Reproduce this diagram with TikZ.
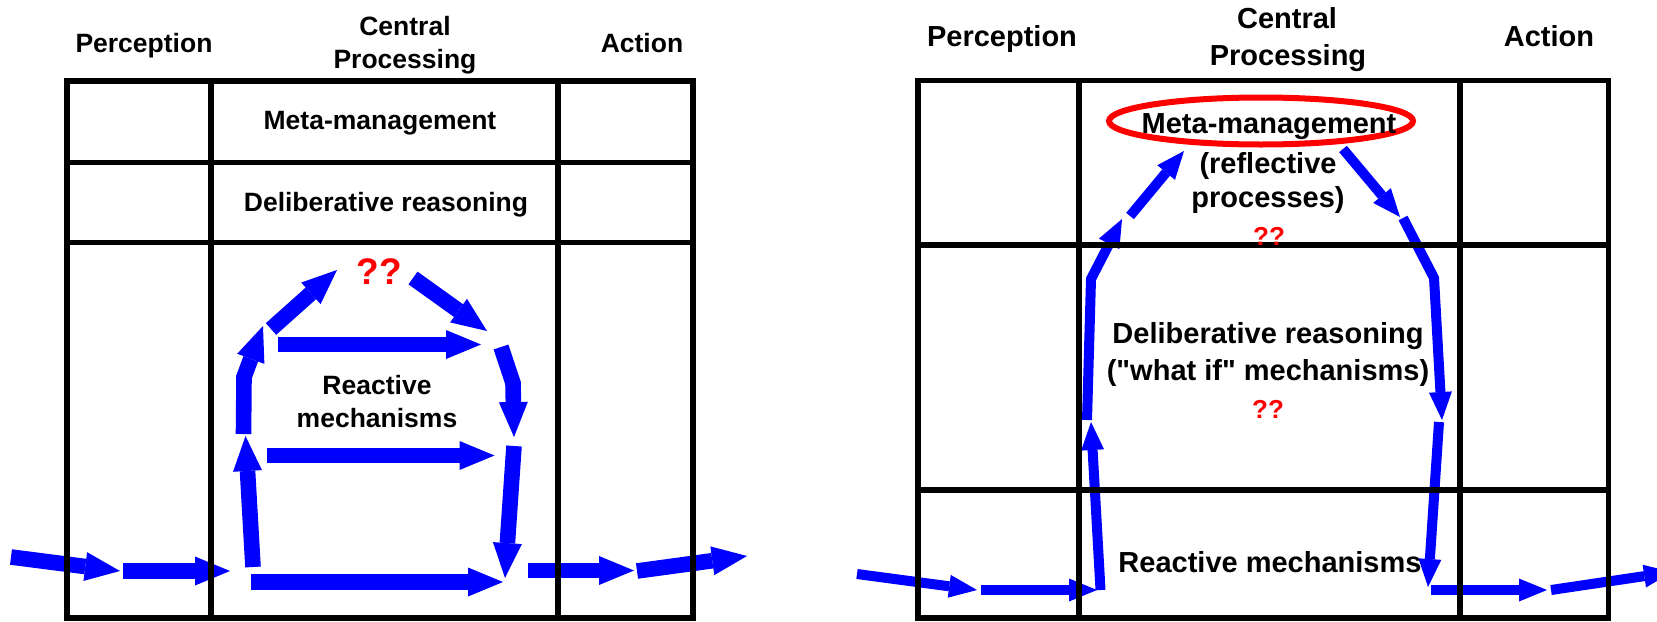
\documentclass[tikz,border=0pt]{standalone}
\usepackage{fontspec}
\setmainfont{Liberation Sans}
\usetikzlibrary{arrows.meta}
\newcommand{\straightquote}{\XeTeXglyph\XeTeXcharglyph"22\relax}
\begin{document}
\begin{tikzpicture}[x=0.5pt,y=-0.5pt,
  lbl/.style={inner sep=0pt, anchor=base, font=\bfseries\fontsize{13.25}{16}\selectfont},
  lblR/.style={inner sep=0pt, anchor=base, font=\bfseries\fontsize{14.5}{17}\selectfont},
  qL/.style={inner sep=0pt, anchor=base, text=red, font=\bfseries\fontsize{18.5}{22}\selectfont},
  qR/.style={inner sep=0pt, anchor=base, text=red, font=\bfseries\fontsize{13}{16}\selectfont},
  gridL/.style={line width=2.6pt},
  gridR/.style={line width=2.9pt},
  flowL/.style={draw=blue, line width=7.8pt, line join=miter, -{Triangle[length=17.5pt,width=14.5pt,line width=0pt]}},
  flowR/.style={draw=blue, line width=5pt, line join=miter, -{Triangle[length=14pt,width=11.5pt,line width=0pt]}},
  ring/.style={draw=red, line width=3pt}]
\clip (0,0) rectangle (1657,621);
\fill[white] (0,0) rectangle (1657,621);

% ---------- left panel: arrow end points ----------
\coordinate (a1s) at (11,557);    \coordinate (a1e) at (120,571);
\coordinate (a2s) at (123,571);   \coordinate (a2e) at (230,571);
\coordinate (a3s) at (251,582);   \coordinate (a3e) at (503,582);
\coordinate (a4s) at (253,567);   \coordinate (a4e) at (245.5,436);
\coordinate (a5s) at (243.5,434); \coordinate (a5b) at (244,377);   \coordinate (a5e) at (263,326);
\coordinate (a6s) at (271,329);   \coordinate (a6e) at (337,270);
\coordinate (a7s) at (278,344.5); \coordinate (a7e) at (481,344.5);
\coordinate (a8s) at (267,455.5); \coordinate (a8e) at (494.5,455.5);
\coordinate (a9s) at (413,278);   \coordinate (a9e) at (487,331);
\coordinate (a10s) at (501,347);  \coordinate (a10b) at (513,383);  \coordinate (a10e) at (514,437);
\coordinate (a11s) at (514,446);  \coordinate (a11e) at (505,578);
\coordinate (a12s) at (528,570.5);\coordinate (a12e) at (634,570.5);
\coordinate (a13s) at (637,571);  \coordinate (a13e) at (747,556);

\draw[flowL] (a1s) -- (a1e);
\draw[flowL] (a2s) -- (a2e);
\draw[flowL] (a3s) -- (a3e);
\draw[flowL] (a4s) -- (a4e);
\draw[flowL] (a5s) -- (a5b) -- (a5e);
\draw[flowL] (a6s) -- (a6e);
\draw[flowL] (a7s) -- (a7e);
\draw[flowL] (a8s) -- (a8e);
\draw[flowL] (a9s) -- (a9e);
\draw[flowL] (a10s) -- (a10b) -- (a10e);
\draw[flowL] (a11s) -- (a11e);
\draw[flowL] (a12s) -- (a12e);
\draw[flowL] (a13s) -- (a13e);

% ---------- left panel: grid ----------
\draw[gridL] (67,81) rectangle (693,618);
\draw[gridL] (211,81) -- (211,618);
\draw[gridL] (558,81) -- (558,618);
\draw[gridL] (67,162.5) -- (693,162.5);
\draw[gridL] (67,242.5) -- (690,242.5);

% ---------- left panel: texts ----------
\node[lbl] (pL) at (144,52.7) {Perception};
\node[lbl] (cL1) at (405,35.6) {Central};
\node[lbl] (cL2) at (405,68.1) {Processing};
\node[lbl] (aL) at (642,52.7) {Action};
\node[lbl] (mmL) at (380,129.9) {Meta-management};
\node[lbl] (drL) at (386,211.9) {Deliberative reasoning};
\node[qL] (qqL) at (379,284.4) {??};
\node[lbl] (rmL1) at (377,394.9) {Reactive};
\node[lbl] (rmL2) at (377,427.7) {mechanisms};

% ---------- right panel: arrow end points ----------
\coordinate (b1s) at (857,574);   \coordinate (b1e) at (977,590);
\coordinate (b2s) at (981,590);   \coordinate (b2e) at (1097,590);
\coordinate (b3s) at (1100.5,590);\coordinate (b3e) at (1091,422);
\coordinate (b4s) at (1087,420);  \coordinate (b4b) at (1091,279);  \coordinate (b4e) at (1122,219);
\coordinate (b5s) at (1130,216);  \coordinate (b5e) at (1184,151);
\coordinate (b6s) at (1343,149);  \coordinate (b6e) at (1400,217);
\coordinate (b7s) at (1403,218);  \coordinate (b7b) at (1434,278);  \coordinate (b7e) at (1442,420);
\coordinate (b8s) at (1439,422);  \coordinate (b8e) at (1428,587);
\coordinate (b9s) at (1431,590);  \coordinate (b9e) at (1547,590);
\coordinate (b10s) at (1551,590); \coordinate (b10e) at (1672,572);

\draw[flowR] (b1s) -- (b1e);
\draw[flowR] (b2s) -- (b2e);
\draw[flowR] (b3s) -- (b3e);
\draw[flowR] (b4s) -- (b4b) -- (b4e);
\draw[flowR] (b5s) -- (b5e);
\draw[flowR] (b6s) -- (b6e);
\draw[flowR] (b7s) -- (b7b) -- (b7e);
\draw[flowR] (b8s) -- (b8e);
\draw[flowR] (b9s) -- (b9e);
\draw[flowR] (b10s) -- (b10e);

% ---------- right panel: grid ----------
\draw[gridR] (918,80.5) rectangle (1608.5,618);
\draw[gridR] (1079,80.5) -- (1079,618);
\draw[gridR] (1460,80.5) -- (1460,618);
\draw[gridR] (918,245) -- (1608.5,245);
\draw[gridR] (918,490) -- (1608.5,490);

% ---------- right panel: ring and texts ----------
\draw[ring] (1261,121) ellipse [x radius=76pt, y radius=11.75pt];
\node[lblR] (pR) at (1002,46.7) {Perception};
\node[lblR] (cR1) at (1287,28.3) {Central};
\node[lblR] (cR2) at (1288,65) {Processing};
\node[lblR] (aR) at (1549,46.7) {Action};
\node[lblR] (mmR) at (1269,133.3) {Meta-management};
\node[lblR] (rfR1) at (1268,173) {(reflective};
\node[lblR] (rfR2) at (1268,207) {processes)};
\node[qR] (qqR1) at (1269,245) {??};
\node[lblR] (drR1) at (1268,343.3) {Deliberative reasoning};
\node[lblR] (drR2) at (1268,380) {(\straightquote what if\straightquote{} mechanisms)};
\node[qR] (qqR2) at (1268,418) {??};
\node[lblR] (rmR) at (1270,572.7) {Reactive mechanisms};
\end{tikzpicture}
\end{document}
